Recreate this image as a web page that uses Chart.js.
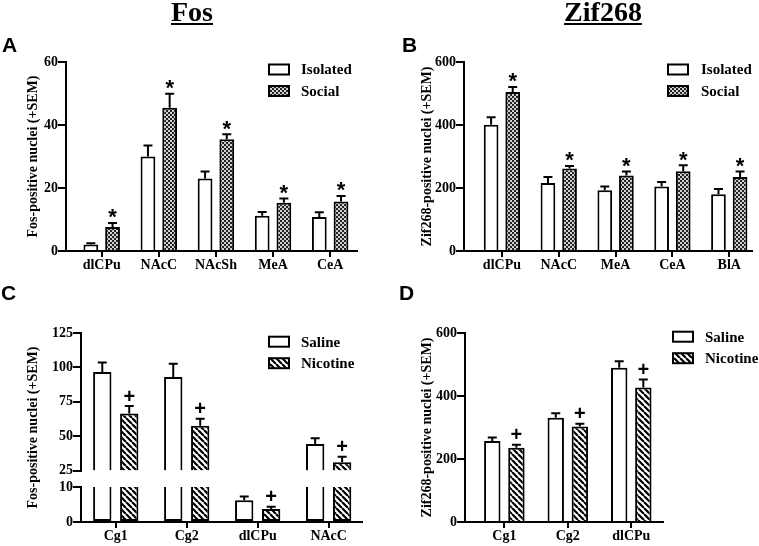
<!DOCTYPE html>
<html>
<head>
<meta charset="utf-8">
<script src="https://cdn.jsdelivr.net/npm/chart.js@4.4.1/dist/chart.umd.min.js"></script>
<style>
    body { margin: 0; background: #fff; }
    #page { position: relative; width: 759px; height: 546px; overflow: hidden; background: #fff; }
    #page canvas { position: absolute; }
    .head { position: absolute; top: -2px; width: 120px; text-align: center; color: #000;
        font: bold 28px/28px "Liberation Serif", serif;
        text-decoration: underline; text-decoration-thickness: 2px; text-underline-offset: 2px; }
    .tag { position: absolute; color: #000; font: bold 21px/21px "Liberation Sans", Arial, sans-serif; }
</style>
</head>
<body>
<div id="page">
    <canvas id="panelA" width="380" height="280" style="left:0;top:0"></canvas>
    <canvas id="panelB" width="379" height="280" style="left:380px;top:0"></canvas>
    <canvas id="panelC" width="380" height="266" style="left:0;top:280px"></canvas>
    <canvas id="panelD" width="379" height="266" style="left:380px;top:280px"></canvas>
    <div class="head" style="left:132px">Fos</div>
    <div class="head" style="left:543px">Zif268</div>
    <div class="tag" style="left:2px;top:34px">A</div>
    <div class="tag" style="left:402px;top:34px">B</div>
    <div class="tag" style="left:1px;top:282px">C</div>
    <div class="tag" style="left:399px;top:282px">D</div>
</div>
<script>
"use strict";

// ------------------------------------------------------- //
// Values (mean, SEM)
// ------------------------------------------------------ //
var fosRegions = ["dlCPu", "NAcC", "NAcSh", "MeA", "CeA"];
var fosIsolated = [2.1, 30, 23, 11.2, 10.8];
var fosIsolatedSem = [0.4, 3.5, 2.2, 1.2, 1.5];
var fosSocial = [7.6, 45.5, 35.5, 15.3, 15.7];
var fosSocialSem = [1.3, 4.4, 1.6, 1.4, 1.8];
var fosTicks = [0, 20, 40, 60];

var zifRegions = ["dlCPu", "NAcC", "MeA", "CeA", "BlA"];
var zifIsolated = [401, 216, 193, 205, 180];
var zifIsolatedSem = [24, 19, 12, 14, 17];
var zifSocial = [505, 262, 240, 253, 235];
var zifSocialSem = [16, 8, 12, 19, 17];
var zifTicks = [0, 200, 400, 600];

var nicFosRegions = ["Cg1", "Cg2", "dlCPu", "NAcC"];
var nicFosSaline = [96.7, 93, 6.2, 44.3];
var nicFosSalineSem = [6.9, 9.7, 1.1, 4.1];
var nicFosNicotine = [66.5, 57.6, 3.7, 31];
var nicFosNicotineSem = [5.4, 5.1, 0.7, 4.1];
var nicFosTicksHigh = [25, 50, 75, 100, 125];
var nicFosTicksLow = [0, 10];

var nicZifRegions = ["Cg1", "Cg2", "dlCPu"];
var nicZifSaline = [257, 331, 490];
var nicZifSalineSem = [11, 14, 20];
var nicZifNicotine = [236, 303, 427];
var nicZifNicotineSem = [9, 9, 25];
var nicZifTicks = [0, 200, 400, 600];

var serif = "'Liberation Serif', 'Times New Roman', serif";
var tickFont = { family: serif, size: 14, weight: "bold" };
Chart.defaults.font.family = serif;
Chart.defaults.font.size = 14;
Chart.defaults.font.weight = "bold";
Chart.defaults.color = "#000";

// ------------------------------------------------------- //
// Fill patterns
// ------------------------------------------------------ //
function makePattern(kind) {
    var c = document.createElement("canvas");
    var g = c.getContext("2d");
    if (kind === "checker") {
        c.width = 4; c.height = 4;
        g.fillStyle = "#d0d0d0"; g.fillRect(0, 0, 4, 4);
        g.fillStyle = "#222"; g.fillRect(0, 0, 2, 2); g.fillRect(2, 2, 2, 2);
    } else {
        c.width = 6; c.height = 6;
        g.fillStyle = "#fff"; g.fillRect(0, 0, 6, 6);
        g.strokeStyle = "#000"; g.lineWidth = 2.2;
        g.beginPath();
        for (var k = -1; k <= 1; k++) { g.moveTo(k * 6, 0); g.lineTo(k * 6 + 6, 6); }
        g.stroke();
    }
    return g.createPattern(c, "repeat");
}
var checker = makePattern("checker");
var hatch = makePattern("hatch");

// ------------------------------------------------------- //
// Plugins
// ------------------------------------------------------ //
// uneven margin before the first and after the last category
var catSpan = {
    id: "catSpan",
    afterLayout: function (chart, args, opts) {
        var xs = chart.scales.x;
        xs._startValue = -opts.left;
        xs._valueRange = chart.data.labels.length - 1 + opts.left + opts.right;
    }
};

var errorBars = {
    id: "errorBars",
    afterDatasetsDraw: function (chart) {
        var ctx = chart.ctx;
        ctx.save();
        ctx.strokeStyle = "#000";
        ctx.fillStyle = "#000";
        ctx.lineWidth = 2;
        ctx.textAlign = "center";
        ctx.textBaseline = "alphabetic";
        chart.data.datasets.forEach(function (ds, i) {
            var meta = chart.getDatasetMeta(i);
            var ys = chart.scales[meta.yAxisID];
            meta.data.forEach(function (bar, j) {
                var v = ds.means[j];
                if (v < ys.min || v > ys.max) return; // drawn on the other segment
                var top = ys.getPixelForValue(v + ds.sem[j]);
                ctx.beginPath();
                ctx.moveTo(bar.x, ys.getPixelForValue(v));
                ctx.lineTo(bar.x, top);
                ctx.moveTo(bar.x - 4.5, top);
                ctx.lineTo(bar.x + 4.5, top);
                ctx.stroke();
                if (ds.mark === "*") {
                    ctx.font = "bold 22px 'Liberation Sans'";
                    ctx.fillText("*", bar.x, top + 1.5);
                } else if (ds.mark === "+") {
                    ctx.font = "bold 20px 'Liberation Sans'";
                    ctx.fillText("+", bar.x, top - 3.5);
                }
            });
        });
        ctx.restore();
    }
};

var boxLegend = {
    id: "boxLegend",
    afterDraw: function (chart, args, opts) {
        var ctx = chart.ctx, seen = [], row = 0;
        ctx.save();
        ctx.font = "bold 15px " + serif;
        ctx.textBaseline = "middle";
        ctx.textAlign = "left";
        chart.data.datasets.forEach(function (ds) {
            if (seen.indexOf(ds.label) >= 0) return;
            seen.push(ds.label);
            var y = opts.y + row * 21.5;
            ctx.fillStyle = ds.backgroundColor;
            ctx.fillRect(opts.x + 1, y - 5, 20, 10);
            ctx.lineWidth = 2;
            ctx.strokeStyle = "#000";
            ctx.strokeRect(opts.x + 1, y - 5, 20, 10);
            ctx.fillStyle = "#000";
            ctx.fillText(ds.label, opts.textX, y + 1);
            row++;
        });
        ctx.restore();
    }
};

var sideTitle = {
    id: "sideTitle",
    afterDraw: function (chart, args, opts) {
        var ctx = chart.ctx, a = chart.chartArea;
        ctx.save();
        ctx.translate(opts.x, (a.top + a.bottom) / 2);
        ctx.rotate(-Math.PI / 2);
        ctx.font = "bold 14px " + serif;
        ctx.textAlign = "center";
        ctx.textBaseline = "middle";
        ctx.fillStyle = "#000";
        ctx.fillText(opts.text, 0, 0);
        ctx.restore();
    }
};

// ------------------------------------------------------- //
// Axis helpers
// ------------------------------------------------------ //
function xAxis() {
    return {
        offset: true,
        grid: { display: true, offset: false, drawOnChartArea: false, drawTicks: true,
                tickLength: 6, color: "#000", lineWidth: 2 },
        border: { display: true, color: "#000", width: 2 },
        ticks: { padding: 0, maxRotation: 0, autoSkip: false, font: tickFont, color: "#000" },
        afterFit: function (s) { s.height = 24; }
    };
}

function yAxis(tickValues, width, extra) {
    return Object.assign({
        type: "linear",
        position: "left",
        min: tickValues[0],
        max: tickValues[tickValues.length - 1],
        stacked: false,
        grid: { display: true, drawOnChartArea: false, drawTicks: true,
                tickLength: 8, color: "#000", lineWidth: 2 },
        border: { display: true, color: "#000", width: 2 },
        ticks: { padding: 0, autoSkip: false, font: tickFont, color: "#000" },
        afterBuildTicks: function (s) {
            s.ticks = tickValues.map(function (v) { return { value: v }; });
        },
        afterFit: function (s) { s.width = width; }
    }, extra || {});
}

function barChart(id, labels, datasets, scales, look) {
    return new Chart(document.getElementById(id), {
        type: "bar",
        data: { labels: labels, datasets: datasets },
        options: {
            responsive: false,
            animation: false,
            events: [],
            layout: { padding: look.padding },
            datasets: {
                bar: { categoryPercentage: 0.76, barPercentage: 0.68, borderColor: "#000", borderWidth: 2 }
            },
            scales: scales,
            plugins: {
                legend: { display: false },
                tooltip: { enabled: false },
                catSpan: look.span,
                sideTitle: { x: look.titleX, text: look.title },
                boxLegend: look.legend
            }
        },
        plugins: [catSpan, errorBars, boxLegend, sideTitle]
    });
}

// ------------------------------------------------------- //
// A: Fos, isolated vs social
// ------------------------------------------------------ //
barChart("panelA", fosRegions, [
    { label: "Isolated", data: fosIsolated, means: fosIsolated, sem: fosIsolatedSem, backgroundColor: "#fff" },
    { label: "Social", data: fosSocial, means: fosSocial, sem: fosSocialSem, mark: "*", backgroundColor: checker }
], {
    x: xAxis(),
    y: yAxis(fosTicks, 66)
}, {
    padding: { left: 0, top: 62, right: 23, bottom: 5 },
    span: { left: 0.625, right: 0.47 },
    titleX: 33,
    title: "Fos-positive nuclei (+SEM)",
    legend: { x: 268, textX: 301, y: 69.5 }
});

// ------------------------------------------------------- //
// B: Zif268, isolated vs social
// ------------------------------------------------------ //
barChart("panelB", zifRegions, [
    { label: "Isolated", data: zifIsolated, means: zifIsolated, sem: zifIsolatedSem, backgroundColor: "#fff" },
    { label: "Social", data: zifSocial, means: zifSocial, sem: zifSocialSem, mark: "*", backgroundColor: checker }
], {
    x: xAxis(),
    y: yAxis(zifTicks, 84)
}, {
    padding: { left: 0, top: 62, right: 7, bottom: 5 },
    span: { left: 0.667, right: 0.4 },
    titleX: 47,
    title: "Zif268-positive nuclei (+SEM)",
    legend: { x: 287, textX: 321, y: 69.5 }
});

// ------------------------------------------------------- //
// C: Fos, saline vs nicotine (broken axis)
// ------------------------------------------------------ //
var lowTop = nicFosTicksLow[nicFosTicksLow.length - 1];
var highBase = nicFosTicksHigh[0];
function lowPart(v) { return [0, Math.min(v, lowTop)]; }
function highPart(v) { return v > highBase ? [highBase, v] : null; }
function lowSkip(values) {
    return function (c) { return values[c.dataIndex] > lowTop ? "end" : false; };
}

barChart("panelC", nicFosRegions, [
    { label: "Saline", stack: "saline", yAxisID: "yHigh", data: nicFosSaline.map(highPart),
      means: nicFosSaline, sem: nicFosSalineSem, backgroundColor: "#fff", borderSkipped: "start" },
    { label: "Nicotine", stack: "nicotine", yAxisID: "yHigh", data: nicFosNicotine.map(highPart),
      means: nicFosNicotine, sem: nicFosNicotineSem, mark: "+", backgroundColor: hatch, borderSkipped: "start" },
    { label: "Saline", stack: "saline", yAxisID: "yLow", data: nicFosSaline.map(lowPart),
      means: nicFosSaline, sem: nicFosSalineSem, backgroundColor: "#fff", borderSkipped: lowSkip(nicFosSaline) },
    { label: "Nicotine", stack: "nicotine", yAxisID: "yLow", data: nicFosNicotine.map(lowPart),
      means: nicFosNicotine, sem: nicFosNicotineSem, mark: "+", backgroundColor: hatch, borderSkipped: lowSkip(nicFosNicotine) }
], {
    x: xAxis(),
    yHigh: yAxis(nicFosTicksHigh, 81, { stack: "c", stackWeight: 138, weight: 3 }),
    yGap: {
        type: "linear", position: "left", stack: "c", stackWeight: 16.6, weight: 2, min: 0, max: 1,
        grid: { display: false }, border: { display: false }, ticks: { display: false },
        afterFit: function (s) { s.width = 81; }
    },
    yLow: yAxis(nicFosTicksLow, 81, { stack: "c", stackWeight: 35, weight: 1 })
}, {
    padding: { left: 0, top: 53, right: 18, bottom: 0 },
    span: { left: 0.49, right: 0.47 },
    titleX: 33,
    title: "Fos-positive nuclei (+SEM)",
    legend: { x: 268, textX: 301, y: 61.7 }
});

// ------------------------------------------------------- //
// D: Zif268, saline vs nicotine
// ------------------------------------------------------ //
barChart("panelD", nicZifRegions, [
    { label: "Saline", data: nicZifSaline, means: nicZifSaline, sem: nicZifSalineSem, backgroundColor: "#fff" },
    { label: "Nicotine", data: nicZifNicotine, means: nicZifNicotine, sem: nicZifNicotineSem, mark: "+", backgroundColor: hatch }
], {
    x: xAxis(),
    y: yAxis(nicZifTicks, 85)
}, {
    padding: { left: 0, top: 53, right: 96, bottom: 0 },
    span: { left: 0.62, right: 0.5 },
    titleX: 47,
    title: "Zif268-positive nuclei (+SEM)",
    legend: { x: 292, textX: 325, y: 56.7 }
});
</script>
</body>
</html>
